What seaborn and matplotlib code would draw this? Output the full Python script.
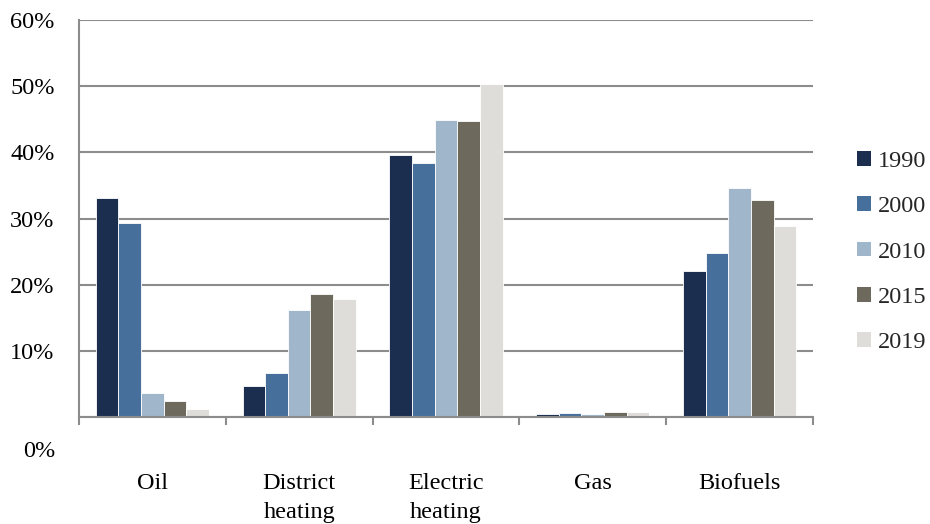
import matplotlib
matplotlib.use("Agg")
import matplotlib.pyplot as plt
import seaborn as sns
import pandas as pd

# Share of heating by energy source
categories = ["Oil", "District\nheating", "Electric\nheating", "Gas", "Biofuels"]
years = ["1990", "2000", "2010", "2015", "2019"]
share_1990 = [33.1, 4.7, 39.6, 0.4, 22.1]
share_2000 = [29.3, 6.6, 38.4, 0.6, 24.8]
share_2010 = [3.6, 16.2, 44.9, 0.5, 34.6]
share_2015 = [2.4, 18.6, 44.7, 0.7, 32.8]
share_2019 = [1.2, 17.8, 50.3, 0.8, 28.9]
ytick_values = [0, 10, 20, 30, 40, 50, 60]
ytick_labels = ["0%", "10%", "20%", "30%", "40%", "50%", "60%"]

palette = ["#1B2E4F", "#46709B", "#9FB6CB", "#6D6A5D", "#DEDDD9"]

series = [share_1990, share_2000, share_2010, share_2015, share_2019]
rows = []
for yr, vals in zip(years, series):
    for cat, v in zip(categories, vals):
        rows.append({"category": cat, "year": yr, "share": v})
df = pd.DataFrame(rows)

sns.set_theme(style="white")
plt.rcParams["font.family"] = ["Liberation Serif", "DejaVu Serif"]
fs = 17.5
plt.rcParams["font.size"] = fs

grid_color = "#8C8C8C"

fig = plt.figure(figsize=(9.3, 5.24), dpi=100)
ax = fig.add_axes([0.0849, 0.2042, 0.8742 - 0.0849, 0.9618 - 0.2042])

sns.barplot(data=df, x="category", y="share", hue="year", order=categories,
            hue_order=years, palette=palette, width=0.77, saturation=1,
            edgecolor="white", linewidth=0.6, ax=ax, zorder=3)

ax.set_ylim(0, 60)
ax.set_xlim(-0.5, len(categories) - 0.5)

# y axis: gridlines and labels; 0% label sits below the category axis
ax.set_yticks(ytick_values)
ax.set_yticklabels([""] + ytick_labels[1:])
ax.annotate(ytick_labels[0], xy=(0, 0), xycoords=("axes fraction", "data"),
            xytext=(-24, -35), textcoords="offset pixels",
            ha="right", va="center", fontsize=fs, color="black")
ax.yaxis.grid(True, color=grid_color, linewidth=1.5, zorder=0)
ax.tick_params(axis="y", length=6, width=1.5, color=grid_color, pad=11.5,
               labelcolor="black", labelsize=fs)

# x axis: boundary tick marks, labels centred under each group
ax.set_xticks([i - 0.5 for i in range(len(categories) + 1)])
ax.set_xticklabels([])
ax.set_xticks(range(len(categories)), minor=True)
ax.set_xticklabels(categories, minor=True, fontsize=fs, linespacing=1.5,
                   va="top")
ax.tick_params(axis="x", which="major", length=6, width=1.5,
               color=grid_color, bottom=True)
ax.tick_params(axis="x", which="minor", length=0, pad=40, labelcolor="black")
ax.set_xlabel("")
ax.set_ylabel("")

for side in ["top", "right"]:
    ax.spines[side].set_visible(False)
for side in ["left", "bottom"]:
    ax.spines[side].set_color(grid_color)
    ax.spines[side].set_linewidth(1.5)
    ax.spines[side].set_zorder(4)

leg = ax.legend(loc="center left", bbox_to_anchor=(1.047, 0.4156), frameon=False,
                fontsize=fs, handlelength=0.55, handleheight=0.55,
                handletextpad=0.3, labelspacing=1.0, borderaxespad=0)
for h in leg.legend_handles:
    h.set_edgecolor("none")

fig.savefig("out.png", dpi=100, facecolor="white")
